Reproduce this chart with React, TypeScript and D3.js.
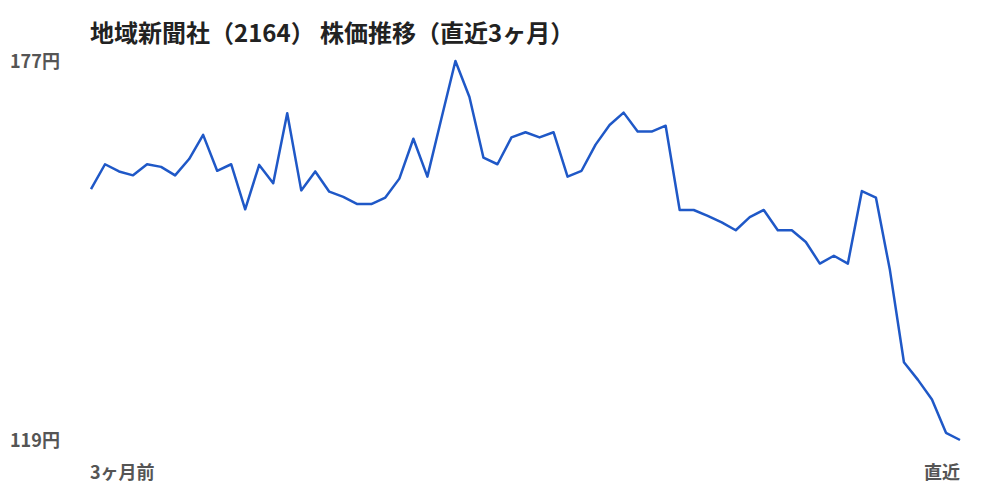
import * as d3 from "d3";

const title = "地域新聞社（2164） 株価推移（直近3ヶ月）";
const startLabel = "3ヶ月前";
const endLabel = "直近";
const yLabels = [177, 119];

// closing prices, oldest first
const prices = [
  157.4, 161.2, 160.1, 159.5, 161.2, 160.8, 159.5, 162.0, 165.7, 160.2,
  161.2, 154.3, 161.1, 158.3, 169.0, 157.2, 160.1, 157.0, 156.2, 155.1,
  155.1, 156.1, 159.0, 165.1, 159.3, 168.2, 177.0, 171.5, 162.2, 161.2,
  165.3, 166.1, 165.3, 166.1, 159.3, 160.2, 164.2, 167.2, 169.1, 166.2,
  166.2, 167.1, 154.2, 154.2, 153.3, 152.3, 151.1, 153.1, 154.2, 151.1,
  151.1, 149.3, 146.0, 147.2, 146.0, 157.1, 156.1, 145.0, 130.9, 128.2,
  125.2, 120.1, 119.0,
];

export default function App() {
  const width = 1000, height = 500;
  const x = d3.scaleLinear().domain([0, prices.length - 1]).range([91, 960]);
  const y = d3.scaleLinear().domain([119, 177]).range([440, 61]);
  const line = d3.line<number>().x((_, i) => x(i)).y(d => y(d));
  const font = "'Noto Sans CJK JP', 'Noto Sans', sans-serif";

  return (
    <svg width={width} height={height} style={{ position: "absolute", left: 0, top: 0 }}>
      <rect width={width} height={height} fill="#fff" />
      <text x={90} y={35} fontFamily={font} fontSize={24} fontWeight={700} fill="#222" dominantBaseline="middle">
        {title}
      </text>
      {yLabels.map(v => (
        <text key={v} x={10} y={y(v) + 2} fontFamily={font} fontSize={18} fontWeight={700} fill="#555" dominantBaseline="middle">
          {v}円
        </text>
      ))}
      <text x={90} y={474} fontFamily={font} fontSize={18} fontWeight={700} fill="#555" dominantBaseline="middle">
        {startLabel}
      </text>
      <text x={960} y={474} fontFamily={font} fontSize={18} fontWeight={700} fill="#555" textAnchor="end" dominantBaseline="middle">
        {endLabel}
      </text>
      <path d={line(prices) ?? ""} fill="none" stroke="#1f58c7" strokeWidth={2.5} strokeLinejoin="round" />
    </svg>
  );
}
